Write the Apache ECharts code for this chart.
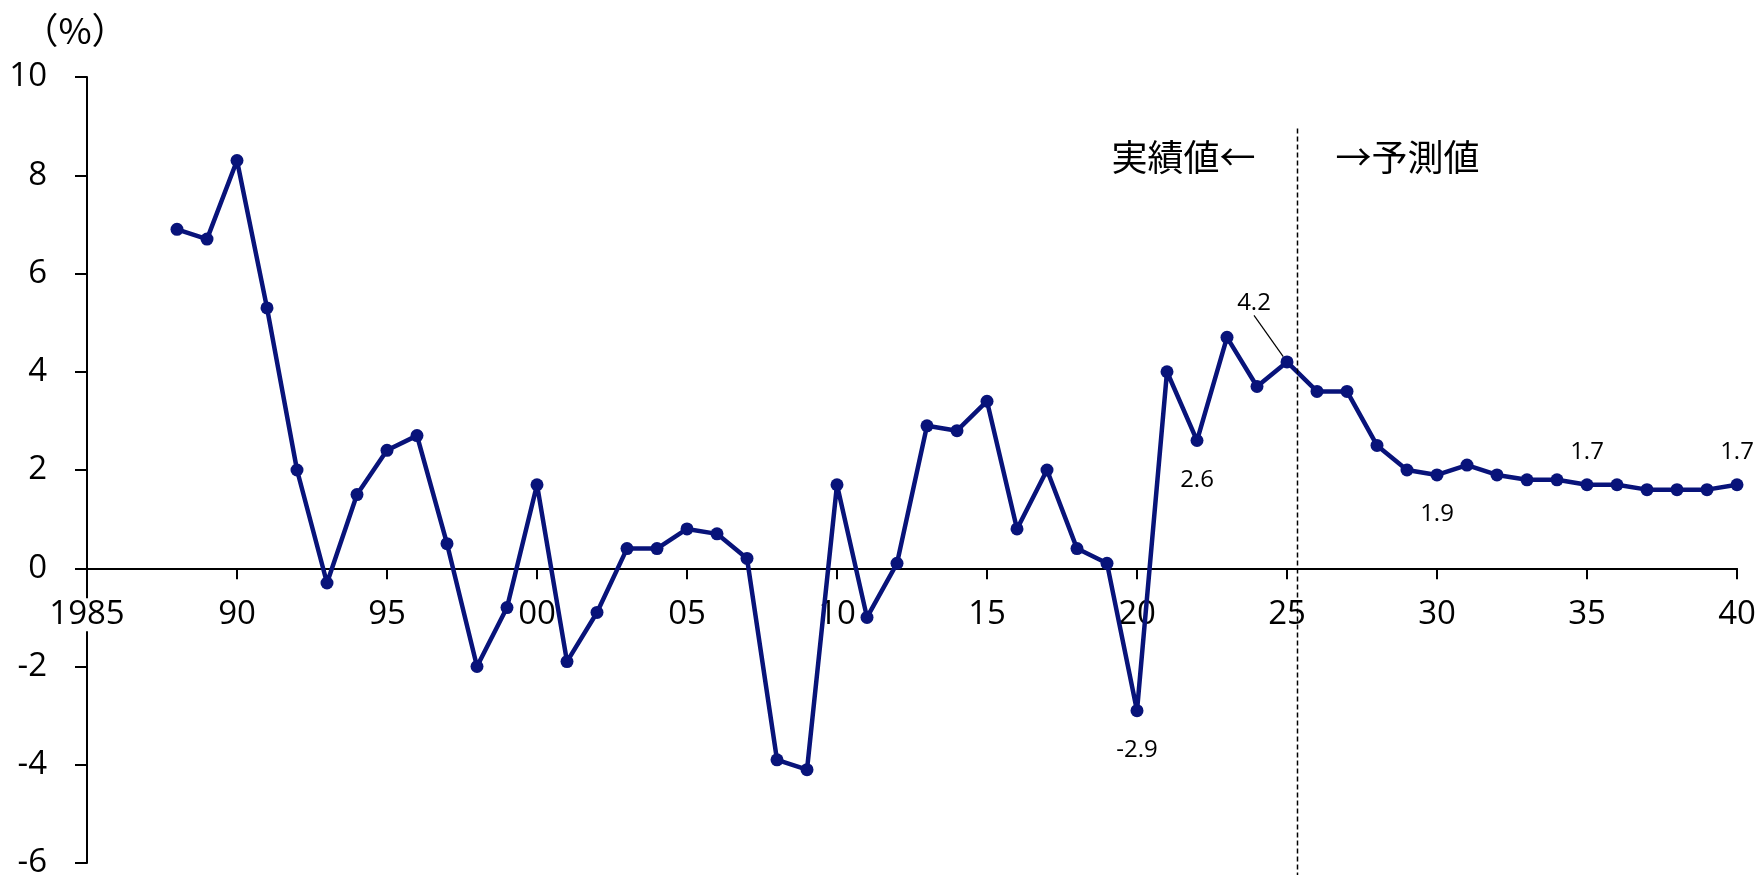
<!DOCTYPE html>
<html>
<head>
<meta charset="utf-8">
<script src="https://cdn.jsdelivr.net/npm/echarts@6/dist/echarts.min.js"></script>
<style>
  html, body { margin: 0; padding: 0; background: #fff; }
  #chart { width: 1759px; height: 875px; }
</style>
</head>
<body>
<div id="chart"></div>
<script>
// 年（1988〜2040）
const years = [
  1988, 1989, 1990, 1991, 1992, 1993, 1994, 1995, 1996, 1997,
  1998, 1999, 2000, 2001, 2002, 2003, 2004, 2005, 2006, 2007,
  2008, 2009, 2010, 2011, 2012, 2013, 2014, 2015, 2016, 2017,
  2018, 2019, 2020, 2021, 2022, 2023, 2024, 2025, 2026, 2027,
  2028, 2029, 2030, 2031, 2032, 2033, 2034, 2035, 2036, 2037,
  2038, 2039, 2040
];
// 伸び率（%）
const growth = [
  6.9, 6.7, 8.3, 5.3, 2.0, -0.3, 1.5, 2.4, 2.7, 0.5,
  -2.0, -0.8, 1.7, -1.9, -0.9, 0.4, 0.4, 0.8, 0.7, 0.2,
  -3.9, -4.1, 1.7, -1.0, 0.1, 2.9, 2.8, 3.4, 0.8, 2.0,
  0.4, 0.1, -2.9, 4.0, 2.6, 4.7, 3.7, 4.2, 3.6, 3.6,
  2.5, 2.0, 1.9, 2.1, 1.9, 1.8, 1.8, 1.7, 1.7, 1.6,
  1.6, 1.6, 1.7
];
// 数値ラベルを付ける年と位置
const labelBelow = [2020, 2022, 2030];
const labelAbove = [2035, 2040];
const labelLeader = [2025];

const xTicks = { min: 1985, max: 2040, interval: 5 };
const yTicks = { min: -6, max: 10, interval: 2 };
const splitYear = 2025.35;   // 実績値／予測値の境目

const navy = '#08137a';
const fontFamily = "'Open Sans', 'Noto Sans CJK JP', sans-serif";
const jpFont = "'Noto Sans CJK JP', sans-serif";

const grid = { left: 87, right: 22, top: 77, bottom: 12 };
const chartHeight = 875;

const chart = echarts.init(document.getElementById('chart'));

const seriesData = years.map((y, i) => {
  const item = { value: [y, growth[i]] };
  if (labelBelow.includes(y)) {
    item.label = { show: true, position: 'bottom', distance: 21 };
  } else if (labelAbove.includes(y)) {
    item.label = { show: true, position: 'top', distance: 14 };
  } else if (labelLeader.includes(y)) {
    item.label = { show: true, position: 'top', distance: 5 };
    item.labelLine = { show: true, lineStyle: { color: '#000', width: 1.2 } };
  }
  return item;
});

// x軸はゼロの位置に置く（ラベルごと offset で移動）
const plotH = chartHeight - grid.top - grid.bottom;
const zeroOffset = -plotH * (0 - yTicks.min) / (yTicks.max - yTicks.min);

chart.setOption({
  animation: false,
  backgroundColor: '#fff',
  grid: {
    left: grid.left, right: grid.right, top: grid.top, bottom: grid.bottom,
    containLabel: false,
    outerBoundsMode: 'none'
  },
  xAxis: {
    type: 'value',
    min: xTicks.min,
    max: xTicks.max,
    interval: xTicks.interval,
    position: 'bottom',
    offset: zeroOffset,
    z: 1,
    axisLine: { onZero: false, lineStyle: { color: '#000', width: 2 } },
    axisTick: { show: true, length: 11, lineStyle: { color: '#000', width: 2 } },
    splitLine: { show: false },
    axisLabel: {
      margin: 30,
      fontSize: 33,
      fontFamily: fontFamily,
      color: '#000',
      showMinLabel: true,
      showMaxLabel: true,
      backgroundColor: '#fff',
      formatter: v => v === 1985 ? '1985' : String(v).slice(2)
    }
  },
  yAxis: {
    type: 'value',
    min: yTicks.min,
    max: yTicks.max,
    interval: yTicks.interval,
    axisLine: { show: true, onZero: false, lineStyle: { color: '#000', width: 2 } },
    axisTick: { show: true, length: 12, lineStyle: { color: '#000', width: 2 } },
    splitLine: { show: false },
    axisLabel: {
      margin: 40,
      fontSize: 33,
      fontFamily: fontFamily,
      color: '#000'
    }
  },
  series: [{
    type: 'line',
    data: seriesData,
    symbol: 'circle',
    symbolSize: 13,
    lineStyle: { color: navy, width: 4.5 },
    itemStyle: { color: navy },
    label: {
      show: false,
      fontSize: 24,
      fontFamily: fontFamily,
      color: '#000'
    },
    labelLayout: params => {
      const y = years[params.dataIndex];
      if (labelLeader.includes(y)) return { dx: -33, dy: -35 };
      return {};
    }
  }]
});

// 境目の破線と注記は軸の座標から配置
const splitTop = chart.convertToPixel({ gridIndex: 0 }, [splitYear, 8.95]);
const splitX = splitTop[0];
chart.setOption({
  graphic: [
    {
      type: 'line',
      shape: { x1: splitX, y1: splitTop[1], x2: splitX, y2: chartHeight },
      style: { stroke: '#000', lineWidth: 1.5, lineDash: [5, 3] },
      z: 5
    },
    {
      type: 'text',
      x: splitX - 42, y: 157,
      style: {
        text: '実績値←', fontSize: 36, fontFamily: jpFont,
        fill: '#000', textAlign: 'right', textVerticalAlign: 'middle'
      }
    },
    {
      type: 'text',
      x: splitX + 38, y: 157,
      style: {
        text: '→予測値', fontSize: 36, fontFamily: jpFont,
        fill: '#000', textAlign: 'left', textVerticalAlign: 'middle'
      }
    },
    {
      type: 'text',
      x: 75, y: 30,
      style: {
        text: '（%）', fontSize: 36, fontFamily: jpFont,
        fill: '#000', textAlign: 'center', textVerticalAlign: 'middle'
      }
    }
  ]
});
</script>
</body>
</html>
